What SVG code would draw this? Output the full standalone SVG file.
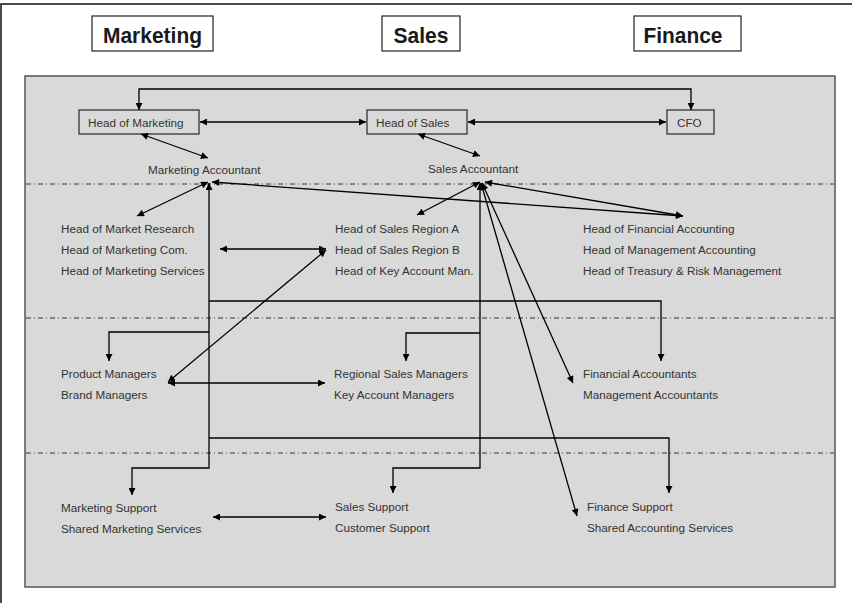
<svg xmlns="http://www.w3.org/2000/svg" width="852" height="603" viewBox="0 0 852 603">
<style>
.hdr{fill:#fff;stroke:#333;stroke-width:1.3}
.hdrt{font-family:"Liberation Sans",Arial,sans-serif;font-weight:bold;font-size:22px;fill:#1a1a1a;text-anchor:middle}
.box{fill:#d9d9d9;stroke:#333;stroke-width:1.3}
.t{font-family:"Liberation Sans",Arial,sans-serif;font-size:11.7px;fill:#333}
.sep{stroke:#222;stroke-width:0.9;stroke-dasharray:5,3,1,3;fill:none}
.c{fill:none;stroke:#000;stroke-width:1.3}
.b{marker-start:url(#a);marker-end:url(#a)}
.e{marker-end:url(#a)}
</style>
<defs>
<marker id="a" viewBox="0 0 10 10" refX="10" refY="5" markerWidth="9" markerHeight="7" markerUnits="userSpaceOnUse" orient="auto-start-reverse"><path d="M0,0 L10,5 L0,10 z" fill="#000"/></marker>
</defs>
<rect x="0" y="0" width="852" height="603" fill="#fff"/>
<path d="M1,603 V4 H852" fill="none" stroke="#111" stroke-width="1.5"/>
<g id="hdr-marketing"><rect class="hdr" x="92" y="16" width="121" height="35"/><text class="hdrt" x="152.5" y="43" textLength="99" lengthAdjust="spacingAndGlyphs">Marketing</text></g>
<g id="hdr-sales"><rect class="hdr" x="382" y="16" width="78" height="35"/><text class="hdrt" x="421" y="43" textLength="55" lengthAdjust="spacingAndGlyphs">Sales</text></g>
<g id="hdr-finance"><rect class="hdr" x="634" y="16" width="107" height="35"/><text class="hdrt" x="683" y="43" textLength="79" lengthAdjust="spacingAndGlyphs">Finance</text></g>
<rect id="panel" x="25" y="76" width="810" height="511" fill="#d9d9d9" stroke="#555" stroke-width="1.5"/>
<g id="separators">
<line class="sep" x1="26" y1="184" x2="834" y2="184"/>
<line class="sep" x1="26" y1="318" x2="834" y2="318"/>
<line class="sep" x1="26" y1="453" x2="834" y2="453"/>
</g>
<g id="head-marketing"><rect class="box" x="79" y="110" width="120" height="24"/><text class="t" x="88" y="127">Head of Marketing</text></g>
<g id="head-sales"><rect class="box" x="367" y="110" width="100" height="24"/><text class="t" x="376" y="127">Head of Sales</text></g>
<g id="cfo"><rect class="box" x="667" y="110" width="47" height="24"/><text class="t" x="677" y="127">CFO</text></g>
<g id="marketing-accountant"><text class="t" x="148" y="174">Marketing Accountant</text></g>
<g id="sales-accountant"><text class="t" x="428" y="173">Sales Accountant</text></g>
<g id="mkt-heads"><text class="t" x="61" y="233">Head of Market Research</text><text class="t" x="61" y="253.5">Head of Marketing Com.</text><text class="t" x="61" y="274.5">Head of Marketing Services</text></g>
<g id="sales-heads"><text class="t" x="335" y="233">Head of Sales Region A</text><text class="t" x="335" y="253.5">Head of Sales Region B</text><text class="t" x="335" y="274.5">Head of Key Account Man.</text></g>
<g id="fin-heads"><text class="t" x="583" y="233">Head of Financial Accounting</text><text class="t" x="583" y="253.5">Head of Management Accounting</text><text class="t" x="583" y="274.5">Head of Treasury &amp; Risk Management</text></g>
<g id="mkt-managers"><text class="t" x="61" y="377.5">Product Managers</text><text class="t" x="61" y="398.5">Brand Managers</text></g>
<g id="sales-managers"><text class="t" x="334" y="377.5">Regional Sales Managers</text><text class="t" x="334" y="398.5">Key Account Managers</text></g>
<g id="fin-accountants"><text class="t" x="583" y="377.5">Financial Accountants</text><text class="t" x="583" y="398.5">Management Accountants</text></g>
<g id="mkt-support"><text class="t" x="61" y="511.5">Marketing Support</text><text class="t" x="61" y="532.5">Shared Marketing Services</text></g>
<g id="sales-support"><text class="t" x="335" y="511">Sales Support</text><text class="t" x="335" y="532">Customer Support</text></g>
<g id="fin-support"><text class="t" x="587" y="511">Finance Support</text><text class="t" x="587" y="532">Shared Accounting Services</text></g>
<g id="connectors">
<path class="c b" d="M139,110 V89 H691 V110"/>
<path class="c b" d="M200,122 H366"/>
<path class="c b" d="M468,122 H666"/>
<path class="c b" d="M141,134 L208,158"/>
<path class="c b" d="M418,134 L480,156"/>
<path class="c b" d="M208,182 L137,216"/>
<path class="c b" d="M209,183 V468 H132 V495"/>
<path class="c e" d="M209,332 H109 V361"/>
<path class="c e" d="M209,301 H661 V361"/>
<path class="c e" d="M209,438 H669 V493"/>
<path class="c b" d="M212,182 L683,216"/>
<path class="c b" d="M480,182 L417,215"/>
<path class="c b" d="M485,182 L683,216"/>
<path class="c b" d="M480,183 V468 H393 V493"/>
<path class="c e" d="M480,333 H406 V361"/>
<path class="c b" d="M482,183 L573,383"/>
<path class="c b" d="M481,183 L577,516"/>
<path class="c b" d="M220,249 H326"/>
<path class="c b" d="M326,250 L168,382"/>
<path class="c b" d="M168,383 H325"/>
<path class="c b" d="M213,517 H326"/>
</g>
</svg>
